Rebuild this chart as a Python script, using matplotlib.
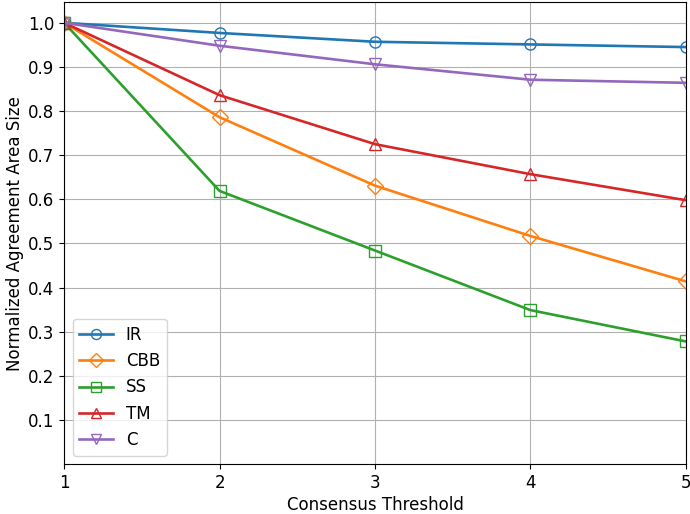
import matplotlib
matplotlib.use('Agg')
import matplotlib.pyplot as plt
import numpy as np

thresholds = [1, 2, 3, 4, 5]
ir = [1.0, 0.977, 0.957, 0.951, 0.945]
cbb = [1.0, 0.786, 0.631, 0.517, 0.414]
ss = [1.0, 0.619, 0.484, 0.349, 0.278]
tm = [1.0, 0.836, 0.725, 0.657, 0.598]
c = [1.0, 0.948, 0.906, 0.871, 0.864]

series = [('IR', ir, 'o'), ('CBB', cbb, 'D'), ('SS', ss, 's'), ('TM', tm, '^'), ('C', c, 'v')]

fig = plt.figure(figsize=(6.9, 5.14), dpi=100)
ax = fig.add_axes([0.093, 0.097, 0.901, 0.899])
for name, vals, m in series:
    ax.plot(thresholds, vals, marker=m, fillstyle='none', markersize=8, linewidth=1.9, label=name)

ax.set_xlim(1, 5)
ax.set_ylim(0, 1.047)
ax.set_xticks(thresholds)
ax.set_yticks(np.arange(0.1, 1.01, 0.1))
ax.grid(True)
ax.set_xlabel('Consensus Threshold', fontsize=12, labelpad=3)
ax.set_ylabel('Normalized Agreement Area Size', fontsize=12, labelpad=3)
ax.tick_params(labelsize=12)
ax.legend(loc='lower left', fontsize=12, markerscale=0.9)
fig.savefig('out.png')
